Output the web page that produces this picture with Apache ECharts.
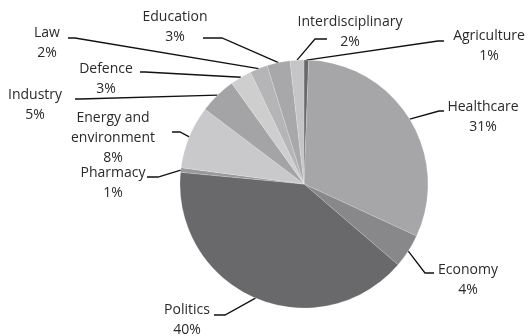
<!DOCTYPE html>
<html><head><meta charset="utf-8">
<script src="https://cdn.jsdelivr.net/npm/echarts@6/dist/echarts.min.js"></script>
<style>html,body{margin:0;padding:0;background:#fff}#c{width:530px;height:336px}</style>
</head><body><div id="c"></div>
<script>
const categories = ['Agriculture','Healthcare','Economy','Politics','Pharmacy','Energy and\nenvironment','Industry','Defence','Law','Education','Interdisciplinary'];
const values = [0.6, 31.3, 4.4, 40.2, 0.6, 8.2, 4.8, 2.8, 2.3, 3.0, 1.8];
const colors = ['#69696c','#a6a6a9','#88888b','#69696c','#99999c','#c9c9cb','#a4a4a7','#cecece','#b5b5b8','#a8a8ab','#c5c5c7'];
// label placement: [centerX, centerY, elbow, end]
const labelPos = [
  [489, 46, [438, 41], [444, 41]],
  [483, 117, [439, 111], [444, 111]],
  [468, 280, [425, 273], [434, 273]],
  [187, 320, [225, 315], [214, 315]],
  [113, 183, [158, 177], [147, 177]],
  [113, 138, [180, 132], [172, 132]],
  [35, 105, [80, 99], [75, 99]],
  [106, 79, [145, 72], [140, 72]],
  [47, 43, [75, 38], [68, 38]],
  [175, 27, [222, 38], [203, 38]],
  [350, 32, [315, 39], [327, 39]]
];
const chart = echarts.init(document.getElementById('c'));
chart.setOption({
  animation: false,
  series: [{
    type: 'pie',
    center: [304, 184],
    radius: 124,
    startAngle: 90,
    clockwise: true,
    data: categories.map((c, i) => ({name: c, value: values[i], itemStyle: {color: colors[i]}})),
    itemStyle: {borderColor: 'rgba(255,255,255,0.35)', borderWidth: 0.5},
    label: {
      formatter: p => p.name + '\n' + Math.round(p.percent) + '%',
      fontFamily: 'Open Sans', fontSize: 14, color: '#2a2a2a', lineHeight: 20, align: 'center',
      overflow: 'none', width: 200
    },
    labelLine: {show: true, lineStyle: {color: '#111', width: 1.3}},
    labelLayout: function (params) {
      const lp = labelPos[params.dataIndex];
      const start = params.labelLinePoints ? params.labelLinePoints[0] : lp[2];
      return {
        x: lp[0], y: lp[1], align: 'center', verticalAlign: 'middle',
        labelLinePoints: [start, lp[2], lp[3]]
      };
    }
  }]
});
</script></body></html>
